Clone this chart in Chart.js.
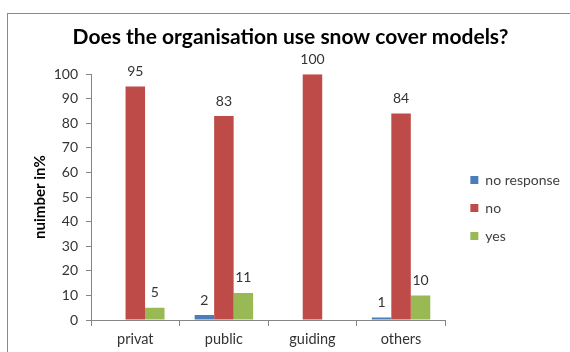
<!DOCTYPE html>
<html>
<head>
<meta charset="utf-8">
<script src="https://cdn.jsdelivr.net/npm/chart.js@4"></script>
<style>
  html, body { margin: 0; padding: 0; background: #fff; }
  #wrap { position: relative; width: 570px; height: 352px; overflow: hidden; }
  #frame { position: absolute; left: 7px; top: 13px; width: 700px; height: 500px;
           border-left: 1px solid #8a8a8a; border-top: 1px solid #8a8a8a; }
  canvas { position: absolute; left: 0; top: 0; }
</style>
</head>
<body>
<div id="wrap">
  <div id="frame"></div>
  <canvas id="c" width="570" height="352"></canvas>
</div>
<script>
const categories = ["privat", "public", "guiding", "others"];
const noResponse = [null, 2, null, 1];
const noValues = [95, 83, 100, 84];
const yesValues = [5, 11, null, 10];
const yTicks = [0, 10, 20, 30, 40, 50, 60, 70, 80, 90, 100];

const FONT = "Lato, 'Open Sans', sans-serif";

const valueLabels = {
  id: 'valueLabels',
  afterDatasetsDraw(chart) {
    const ctx = chart.ctx;
    ctx.save();
    ctx.font = "14px " + FONT;
    ctx.fillStyle = "#333";
    ctx.textAlign = "center";
    ctx.textBaseline = "middle";
    chart.data.datasets.forEach((ds, i) => {
      const meta = chart.getDatasetMeta(i);
      meta.data.forEach((bar, j) => {
        const v = ds.data[j];
        if (v === null || v === undefined) return;
        ctx.fillText(String(v), bar.x, bar.y - 15);
      });
    });
    ctx.restore();
  }
};

// nudge the legend block to where the reference places it
const legendShift = {
  id: 'legendShift',
  afterLayout(chart) {
    const lg = chart.legend;
    if (!lg) return;
    const dx = 11, dy = 32;
    lg.left += dx; lg.right += dx;
    lg.top += dy; lg.bottom += dy;
  }
};

new Chart(document.getElementById('c'), {
  type: 'bar',
  data: {
    labels: categories,
    datasets: [
      { label: 'no response', data: noResponse, backgroundColor: '#4a7ebb' },
      { label: 'no', data: noValues, backgroundColor: '#be4b48' },
      { label: 'yes', data: yesValues, backgroundColor: '#98b954' }
    ]
  },
  options: {
    responsive: false,
    animation: false,
    devicePixelRatio: 1,
    layout: { padding: { left: 22, right: 11, top: 0, bottom: 0 } },
    datasets: { bar: { barPercentage: 1, categoryPercentage: 0.66 } },
    plugins: {
      title: {
        display: true,
        text: 'Does the organisation use snow cover models?',
        color: '#000',
        font: { family: FONT, size: 21, weight: 'bold' },
        padding: { top: 25, bottom: 24 }
      },
      legend: {
        position: 'right',
        align: 'center',
        labels: {
          boxWidth: 8, boxHeight: 8, padding: 14,
          color: '#404040',
          font: { family: FONT, size: 14 }
        }
      },
      tooltip: { enabled: false }
    },
    scales: {
      x: {
        offset: true,
        grid: { display: true, drawOnChartArea: false, offset: true, tickLength: 6, color: '#868686' },
        border: { color: '#868686' },
        ticks: { color: '#333', font: { family: FONT, size: 14.5 }, padding: 5 },
        afterFit(s) { s.height = 32; }
      },
      y: {
        min: 0, max: 100,
        afterBuildTicks(s) { s.ticks = yTicks.map(v => ({ value: v })); },
        grid: { display: true, drawOnChartArea: false, tickLength: 5, color: '#868686' },
        border: { color: '#868686' },
        ticks: { color: '#333', font: { family: FONT, size: 14 }, padding: 8 },
        title: { display: true, text: 'nuimber in%', color: '#000',
                 font: { family: FONT, size: 15, weight: 'bold' }, padding: { top: 9, bottom: 0 } },
        afterFit(s) { s.width = 69; }
      }
    }
  },
  plugins: [valueLabels, legendShift]
});
</script>
</body>
</html>
